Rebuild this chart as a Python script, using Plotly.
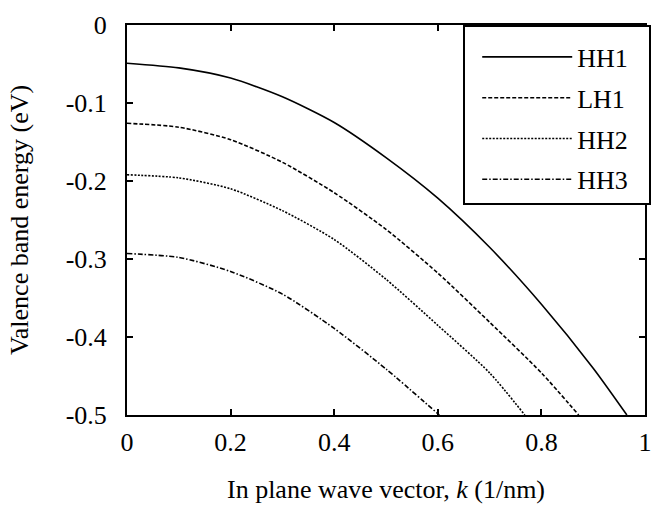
import plotly.graph_objects as go

# Data
k_hh1 = [0.0, 0.1, 0.2, 0.3, 0.4, 0.5, 0.6, 0.7, 0.8, 0.9, 0.965]
e_hh1 = [-0.049, -0.055, -0.068, -0.092, -0.125, -0.170, -0.222, -0.285, -0.358, -0.440, -0.5]

k_lh1 = [0.0, 0.1, 0.2, 0.3, 0.4, 0.5, 0.6, 0.7, 0.8, 0.872]
e_lh1 = [-0.126, -0.131, -0.147, -0.176, -0.215, -0.262, -0.318, -0.381, -0.446, -0.5]

k_hh2 = [0.0, 0.1, 0.2, 0.3, 0.4, 0.5, 0.6, 0.7, 0.768]
e_hh2 = [-0.192, -0.196, -0.210, -0.238, -0.275, -0.326, -0.385, -0.446, -0.5]

k_hh3 = [0.0, 0.1, 0.2, 0.3, 0.4, 0.5, 0.603]
e_hh3 = [-0.293, -0.298, -0.316, -0.345, -0.389, -0.441, -0.5]

series_names = ["HH1", "LH1", "HH2", "HH3"]

x_tickvals = [0, 0.2, 0.4, 0.6, 0.8, 1]
x_ticktext = ["0", "0.2", "0.4", "0.6", "0.8", "1"]
y_tickvals = [0, -0.1, -0.2, -0.3, -0.4, -0.5]
y_ticktext = ["0", "-0.1", "-0.2", "-0.3", "-0.4", "-0.5"]

FONT = "Liberation Serif, Times New Roman, serif"
FS = 26
dashes = ["solid", "4px,2px", "2px,1.5px", "5px,2px,1.5px,2px"]

fig = go.Figure()
for i, (name, kx, ey) in enumerate(zip(series_names,
                                       [k_hh1, k_lh1, k_hh2, k_hh3],
                                       [e_hh1, e_lh1, e_hh2, e_hh3])):
    fig.add_trace(go.Scatter(
        x=kx, y=ey, mode="lines", name=name, legendgroup=name,
        line=dict(color="black", width=1.6, dash=dashes[i],
                  shape="spline", smoothing=0.7),
    ))

axis_common = dict(
    showgrid=False, zeroline=False, showline=True, linecolor="black",
    linewidth=2, mirror="ticks", ticks="inside", ticklen=6, tickwidth=1.5,
    tickcolor="black", tickfont=dict(family=FONT, size=FS, color="black"),
)

fig.update_xaxes(range=[0, 1], tickvals=x_tickvals, ticktext=x_ticktext,
                 ticklabelstandoff=3,
                 title=dict(text="In plane wave vector, <i>k</i> (1/nm)",
                            font=dict(family=FONT, size=FS, color="black"),
                            standoff=24),
                 **axis_common)
fig.update_yaxes(range=[-0.5, 0], tickvals=y_tickvals, ticktext=y_ticktext,
                 ticklabelstandoff=13,
                 title=dict(text="Valence band energy (eV)",
                            font=dict(family=FONT, size=FS, color="black"),
                            standoff=30),
                 **axis_common)

# invisible spacer title: gives the legend box its top padding and width
legend_spacer = "\u2003" * 36

fig.update_layout(
    width=656, height=508,
    margin=dict(l=127, r=5, t=25, b=93),
    paper_bgcolor="white", plot_bgcolor="white",
    font=dict(family=FONT, size=FS, color="black"),
    legend=dict(x=1.012, y=1, xanchor="right", yanchor="top",
                bordercolor="black", borderwidth=2, bgcolor="white",
                itemwidth=90, tracegroupgap=4, indentation=12,
                title=dict(text=legend_spacer, font=dict(family=FONT, size=5)),
                font=dict(family=FONT, size=FS, color="black")),
    showlegend=True,
)

fig.write_html("out.html")
